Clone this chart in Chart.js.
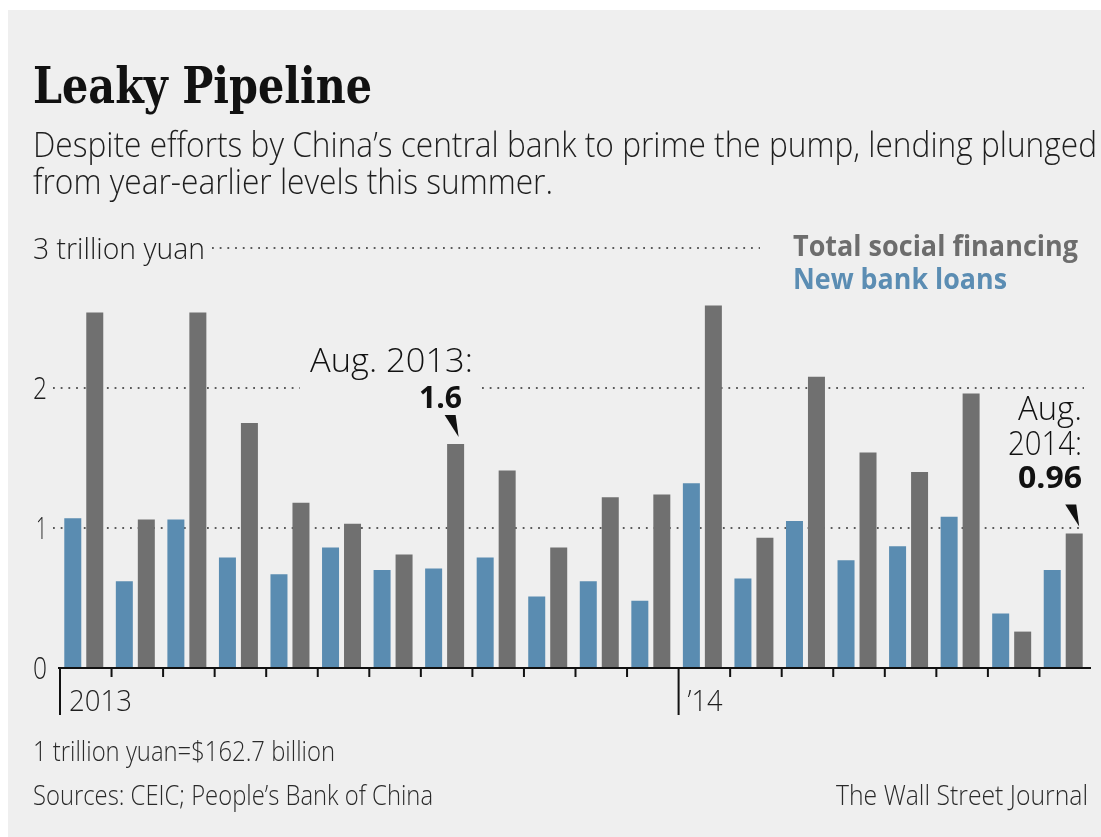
<!DOCTYPE html>
<html>
<head>
<meta charset="utf-8">
<title>Leaky Pipeline</title>
<script src="https://cdn.jsdelivr.net/npm/chart.js@4.4.1/dist/chart.umd.min.js"></script>
<style>
  html, body { margin: 0; padding: 0; background: #fff; }
  #wrap { position: relative; width: 1101px; height: 837px; }
  canvas { display: block; }
</style>
</head>
<body>
<div id="wrap"><canvas id="chart" width="1101" height="837"></canvas></div>
<script>
// Monthly data, trillion yuan
const months = [
    'Jan 2013', 'Feb 2013', 'Mar 2013', 'Apr 2013', 'May 2013', 'Jun 2013',
    'Jul 2013', 'Aug 2013', 'Sep 2013', 'Oct 2013', 'Nov 2013', 'Dec 2013',
    'Jan 2014', 'Feb 2014', 'Mar 2014', 'Apr 2014', 'May 2014', 'Jun 2014',
    'Jul 2014', 'Aug 2014'
];
const newBankLoans = [
    1.07, 0.62, 1.06, 0.79, 0.67, 0.86, 0.70, 0.71, 0.79, 0.51, 0.62, 0.48,
    1.32, 0.64, 1.05, 0.77, 0.87, 1.08, 0.39, 0.70
];
const totalSocialFinancing = [
    2.54, 1.06, 2.54, 1.75, 1.18, 1.03, 0.81, 1.6, 1.41, 0.86, 1.22, 1.24,
    2.59, 0.93, 2.08, 1.54, 1.40, 1.96, 0.26, 0.96
];
const yTickValues = [0, 1, 2, 3];
const yTickLabels = ['0', '1', '2', '3 trillion yuan'];
const yearStartIndex = [0, 12];
const yearLabels = ['2013', '\u201914'];

const BLUE = '#5a8cb1';
const GRAY = '#707070';
const SANS = '"Open Sans", "DejaVu Sans", sans-serif';
const SERIF = '"DejaVu Serif", serif';
const LIGHT = '300 ';
// month boundaries sit a little right of the bar groups
const TICK_SHIFT = 2;

// text helper: squeezes the run horizontally to a given width (condensed look)
function drawText(ctx, text, x, y, opts) {
    ctx.save();
    ctx.font = opts.font;
    ctx.fillStyle = opts.color || '#222';
    ctx.textBaseline = 'alphabetic';
    const w = ctx.measureText(text).width;
    const sx = opts.width ? opts.width / w : 1;
    const drawnW = w * sx;
    let left = x;
    if (opts.align === 'right') left = x - drawnW;
    ctx.translate(left, y);
    ctx.scale(sx, 1);
    ctx.textAlign = 'left';
    ctx.fillText(text, 0, 0);
    ctx.restore();
}

function dottedLine(ctx, x1, x2, y) {
    ctx.save();
    ctx.strokeStyle = '#5a5a5a';
    ctx.lineWidth = 1.8;
    ctx.setLineDash([1.8, 5.9]);
    ctx.beginPath();
    ctx.moveTo(x1, y);
    ctx.lineTo(x2, y);
    ctx.stroke();
    ctx.restore();
}

function pointer(ctx, tx, ty) {
    ctx.save();
    ctx.fillStyle = '#111';
    ctx.beginPath();
    ctx.moveTo(tx - 14, ty - 22);
    ctx.lineTo(tx - 3, ty - 22);
    ctx.lineTo(tx, ty);
    ctx.closePath();
    ctx.fill();
    ctx.restore();
}

const backdrop = {
    id: 'backdrop',
    beforeDraw(chart) {
        const ctx = chart.ctx;
        ctx.save();
        ctx.fillStyle = '#fff';
        ctx.fillRect(0, 0, chart.width, chart.height);
        ctx.fillStyle = '#efefef';
        ctx.fillRect(8, 10, chart.width - 8, chart.height - 10);
        ctx.restore();
    }
};

// dotted reference lines sit behind the bars, with gaps around the labels
const gridDots = {
    id: 'gridDots',
    beforeDatasetsDraw(chart) {
        const ctx = chart.ctx;
        const y = chart.scales.y;
        dottedLine(ctx, 212, 760, y.getPixelForValue(3));
        dottedLine(ctx, 53, 300, y.getPixelForValue(2));
        dottedLine(ctx, 482, 1084, y.getPixelForValue(2));
        dottedLine(ctx, 53, 1084, y.getPixelForValue(1));
    }
};

const decorations = {
    id: 'decorations',
    afterDatasetsDraw(chart) {
        const ctx = chart.ctx;
        const x = chart.scales.x;
        const y = chart.scales.y;
        const area = chart.chartArea;
        const y0 = y.getPixelForValue(0);

        // headline and intro
        drawText(ctx, 'Leaky Pipeline', 33, 103, { font: 'bold 51px ' + SERIF, color: '#111', width: 339 });
        drawText(ctx, 'Despite efforts by China\u2019s central bank to prime the pump, lending plunged', 33, 157,
            { font: LIGHT + '34px ' + SANS, color: '#1e1e1e', width: 1064 });
        drawText(ctx, 'from year-earlier levels this summer.', 33, 194,
            { font: LIGHT + '34px ' + SANS, color: '#1e1e1e', width: 520 });

        // y tick labels
        yTickValues.forEach((v, i) => {
            const py = y.getPixelForValue(v) + 11;
            if (i === yTickValues.length - 1) {
                drawText(ctx, yTickLabels[i], 33, py, { font: LIGHT + '30px ' + SANS, color: '#1e1e1e', width: 172 });
            } else {
                drawText(ctx, yTickLabels[i], 47, py, { font: LIGHT + '32px ' + SANS, color: '#1e1e1e', align: 'right', width: i === 1 ? 11 : 14 });
            }
        });

        // legend
        drawText(ctx, chart.data.datasets[1].label, 793, 256, { font: 'bold 29px ' + SANS, color: '#6d6d6d', width: 285 });
        drawText(ctx, chart.data.datasets[0].label, 793, 289, { font: 'bold 29px ' + SANS, color: '#5b8db3', width: 214 });

        // axis line and month ticks
        const step = (x.getPixelForValue(1) - x.getPixelForValue(0));
        ctx.save();
        ctx.strokeStyle = '#111';
        ctx.lineWidth = 2;
        ctx.beginPath();
        ctx.moveTo(area.left, y0);
        ctx.lineTo(area.right + TICK_SHIFT, y0);
        for (let i = 0; i < months.length; i++) {
            const bx = x.getPixelForValue(i) - step / 2 + TICK_SHIFT;
            const isYear = yearStartIndex.includes(i);
            ctx.moveTo(bx, y0);
            ctx.lineTo(bx, y0 + (isYear ? 47 : 9));
        }
        ctx.stroke();
        ctx.restore();

        yearStartIndex.forEach((idx, k) => {
            const bx = x.getPixelForValue(idx) - step / 2 + TICK_SHIFT;
            drawText(ctx, yearLabels[k], bx + 9, 711, { font: LIGHT + '30px ' + SANS, color: '#1e1e1e', width: k === 0 ? 63 : 35 });
        });

        // callouts for August of each year
        const tsf = chart.getDatasetMeta(1).data;
        const aug13 = tsf[7];
        const aug14 = tsf[19];
        drawText(ctx, 'Aug. 2013:', 473, 372, { font: LIGHT + '33px ' + SANS, color: '#111', align: 'right', width: 163 });
        drawText(ctx, totalSocialFinancing[7].toFixed(1), 462, 408, { font: 'bold 31px ' + SANS, color: '#111', align: 'right', width: 43 });
        pointer(ctx, aug13.x + 3, aug13.y - 7);

        drawText(ctx, 'Aug.', 1082, 420, { font: LIGHT + '33px ' + SANS, color: '#111', align: 'right', width: 64 });
        drawText(ctx, '2014:', 1082, 455, { font: LIGHT + '33px ' + SANS, color: '#111', align: 'right', width: 74 });
        drawText(ctx, totalSocialFinancing[19].toFixed(2), 1082, 488, { font: 'bold 31px ' + SANS, color: '#111', align: 'right', width: 64 });
        pointer(ctx, aug14.x + 5, aug14.y - 7);

        // footnotes
        drawText(ctx, '1 trillion yuan=$162.7 billion', 33, 761, { font: LIGHT + '27px ' + SANS, color: '#2a2a2a', width: 302 });
        drawText(ctx, 'Sources: CEIC; People\u2019s Bank of China', 33, 805, { font: LIGHT + '27px ' + SANS, color: '#2a2a2a', width: 400 });
        drawText(ctx, 'The Wall Street Journal', 1088, 805, { font: LIGHT + '27px ' + SANS, color: '#2a2a2a', align: 'right', width: 252 });
    }
};

new Chart(document.getElementById('chart'), {
    type: 'bar',
    data: {
        labels: months,
        datasets: [
            {
                label: 'New bank loans',
                data: newBankLoans,
                backgroundColor: BLUE,
                borderWidth: 0,
                categoryPercentage: 0.853,
                barPercentage: 0.773
            },
            {
                label: 'Total social financing',
                data: totalSocialFinancing,
                backgroundColor: GRAY,
                borderWidth: 0,
                categoryPercentage: 0.853,
                barPercentage: 0.773
            }
        ]
    },
    options: {
        responsive: false,
        animation: false,
        layout: { padding: { left: 58, right: 12, top: 248, bottom: 169 } },
        scales: {
            x: { display: false, offset: true },
            y: { display: false, min: 0, max: 3 }
        },
        plugins: {
            legend: { display: false },
            tooltip: { enabled: false },
            title: { display: false }
        }
    },
    plugins: [backdrop, gridDots, decorations]
});
</script>
</body>
</html>
